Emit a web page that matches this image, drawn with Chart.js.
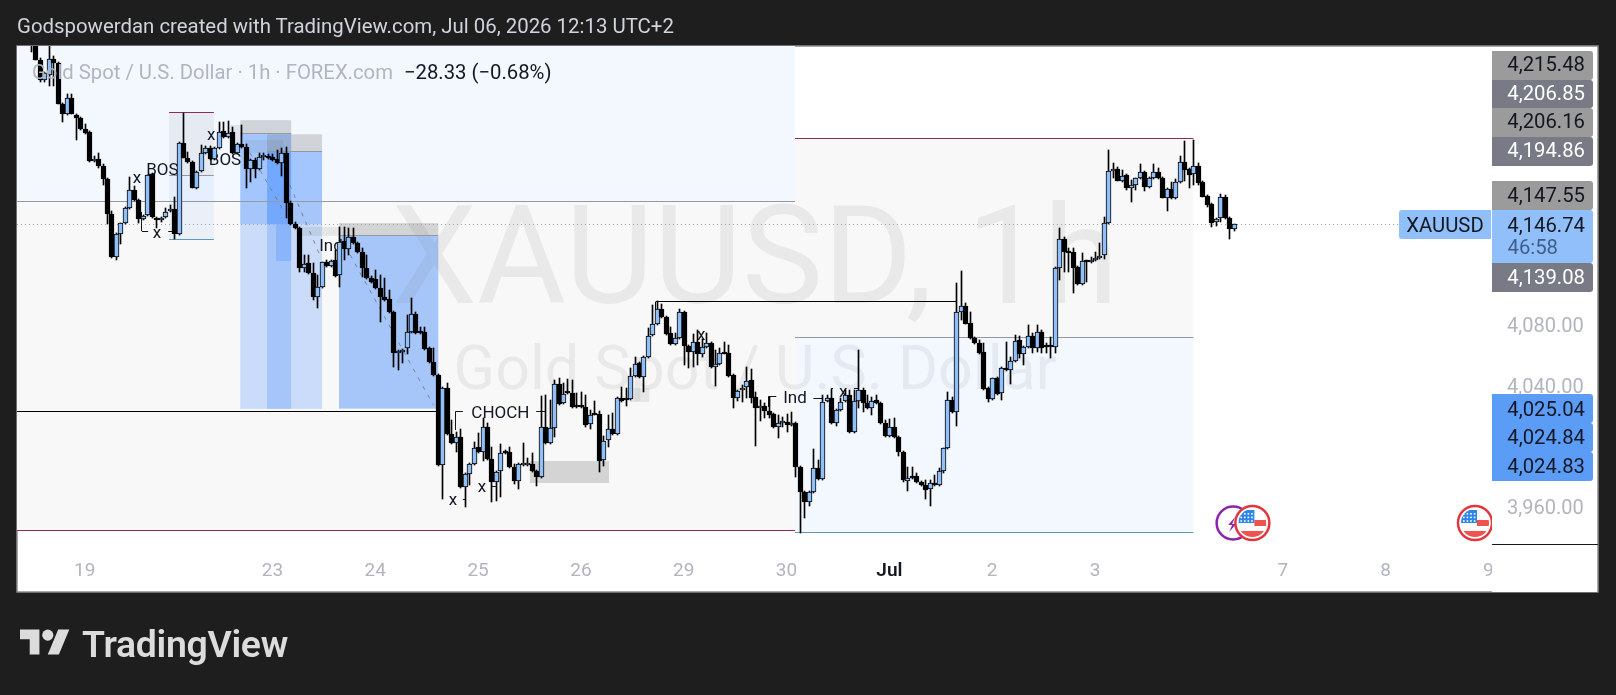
<!DOCTYPE html>
<html>
<head>
<meta charset="utf-8">
<title>XAUUSD, 1h</title>
<script src="https://cdn.jsdelivr.net/npm/chart.js@4/dist/chart.umd.min.js"></script>
<style>
    html, body { margin: 0; padding: 0; background: #1e1e1e; overflow: hidden; }
    body { width: 1616px; height: 695px; position: relative; font-family: Roboto, sans-serif; }
    canvas { position: absolute; left: 0; top: 0; }
    #titulo { position: absolute; left: 17px; top: 14px; color: #d1d4dc; font-size: 20.4px; line-height: 24px; white-space: nowrap; }
    #legenda { position: absolute; left: 32px; top: 60px; font-size: 20.3px; line-height: 24px; color: #b2b5be; white-space: nowrap; }
    #legenda b { font-weight: 400; color: #131722; margin-left: 11px; }
    #logo { position: absolute; left: 20px; top: 624px; }
    #marca { position: absolute; left: 82px; top: 622px; color: #dcdcdc; font-size: 37.4px; line-height: 44px; font-weight: 600; letter-spacing: -0.3px; white-space: nowrap; }
</style>
</head>
<body>
<canvas id="grafico" width="1616" height="695"></canvas>
<div id="titulo">Godspowerdan created with TradingView.com, Jul 06, 2026 12:13 UTC+2</div>
<div id="legenda">Gold Spot / U.S. Dollar · 1h · FOREX.com<b>−28.33 (−0.68%)</b></div>
<svg id="logo" width="50" height="39" viewBox="0 0 36 28"><path fill="#dcdcdc" d="M14 22H7V11H0V4h14v18zM28 22h-8l7.5-18h8L28 22z"/><circle fill="#dcdcdc" cx="20" cy="8" r="4"/></svg>
<div id="marca">TradingView</div>
<script>
// Candles 1h
const opens = [
    4268.5,4268.5,4255.3,4242.1,4245.4,4255.9,4253.3,4226.2,4219.6,4230.2,
    4218.9,4217.0,4209.7,4207.7,4188.6,4189.9,4185.2,4176.7,4153.5,4125.2,
    4140.4,4147.6,4157.5,4169.4,4162.8,4150.2,4152.9,4180.0,4150.9,4149.6,
    4151.6,4155.5,4156.9,4140.4,4200.4,4190.5,4187.9,4170.7,4181.9,4193.8,
    4197.1,4189.9,4197.1,4208.4,4204.4,4207.7,4193.8,4199.8,4197.8,4183.3,
    4189.2,4183.3,4190.9,4191.2,4191.2,4189.9,4187.2,4193.8,4160.8,4146.9,
    4144.3,4117.9,4121.2,4114.6,4098.7,4105.3,4121.9,4119.2,4123.2,4113.3,
    4135.7,4130.4,4138.4,4134.4,4128.5,4117.9,4111.3,4110.6,4104.7,4098.7,
    4097.4,4088.8,4061.7,4062.4,4065.0,4075.6,4087.5,4075.6,4075.6,4065.0,
    4055.8,4047.2,3987.8,4038.6,4008.2,4002.3,4006.3,3973.2,3981.8,3988.4,
    3999.7,3996.4,4012.9,3991.7,3976.5,3983.8,3996.4,3996.4,3986.5,3977.2,
    3988.1,3988.1,3988.4,3983.8,3979.8,4012.9,4002.3,4012.2,4041.2,4028.7,
    4035.3,4035.3,4026.7,4026.7,4026.1,4014.8,4021.5,4021.5,3991.1,4004.3,
    4011.5,4008.2,4032.0,4031.4,4031.4,4046.6,4055.1,4045.9,4059.1,4073.6,
    4080.9,4090.8,4085.5,4075.0,4067.7,4071.7,4088.8,4066.4,4062.4,4069.0,
    4061.1,4065.7,4068.3,4052.5,4054.5,4061.7,4061.7,4047.2,4032.0,4037.3,
    4039.3,4043.9,4032.7,4025.4,4026.7,4023.4,4021.5,4012.9,4015.8,4016.2,
    4014.2,4015.5,3986.5,3969.9,3963.3,3969.9,3985.8,3978.5,4030.0,4032.0,
    4015.5,4024.1,4030.0,4034.0,4009.6,4030.0,4037.3,4028.7,4025.4,4030.7,
    4028.7,4015.5,4006.9,4012.9,4006.3,3996.4,3977.2,3979.8,3980.5,3976.5,
    3974.6,3971.9,3975.9,3974.6,3983.8,3999.0,4030.7,4022.8,4088.8,4092.8,
    4081.5,4071.7,4068.3,4062.4,4038.6,4031.4,4045.2,4035.3,4051.8,4050.5,
    4056.5,4070.3,4061.1,4065.7,4073.0,4065.0,4075.6,4065.7,4065.7,4065.7,
    4117.9,4137.0,4128.5,4128.5,4118.6,4107.3,4122.5,4121.9,4123.2,4124.5,
    4126.5,4147.6,4181.9,4183.3,4175.3,4179.3,4170.7,4172.7,4177.3,4181.3,
    4171.4,4177.3,4181.3,4177.3,4164.1,4170.1,4164.1,4174.7,4187.9,4183.3,
    4180.0,4185.2,4174.7,4165.4,4160.2,4148.3,4150.9,4164.8,4150.9,4143.6
];
const highs = [
    4269.8,4269.8,4256.6,4247.3,4264.5,4257.9,4253.9,4226.9,4232.8,4232.8,
    4219.6,4217.6,4213.0,4208.4,4191.9,4193.8,4186.6,4177.3,4155.5,4141.0,
    4147.6,4158.2,4178.0,4172.0,4163.5,4152.9,4179.3,4180.6,4151.6,4151.6,
    4157.5,4159.5,4164.8,4201.1,4220.3,4194.5,4188.6,4181.9,4199.1,4198.5,
    4198.5,4197.8,4214.3,4214.3,4215.0,4211.0,4200.4,4212.3,4199.8,4189.9,
    4190.5,4193.8,4193.8,4193.2,4193.2,4195.8,4197.1,4197.8,4162.1,4148.3,
    4145.0,4126.5,4126.5,4121.2,4113.3,4121.9,4123.2,4123.2,4129.8,4145.0,
    4145.0,4144.3,4144.3,4135.1,4131.1,4126.5,4112.6,4116.6,4113.3,4111.3,
    4103.4,4089.5,4063.7,4064.4,4086.8,4098.1,4088.8,4078.9,4078.9,4065.7,
    4065.0,4047.9,4039.3,4041.9,4017.5,4009.6,4011.5,3982.5,3989.1,4003.0,
    4008.9,4018.8,4015.5,3999.7,3983.8,4001.6,3997.7,3999.7,3988.4,3989.1,
    4002.3,3992.4,3995.7,3984.5,4033.3,4034.0,4030.7,4043.9,4045.2,4041.9,
    4044.6,4043.9,4035.3,4036.0,4034.0,4024.1,4030.0,4023.4,4006.9,4020.8,
    4022.1,4032.7,4039.3,4038.6,4051.8,4059.1,4055.8,4059.8,4078.2,4093.4,
    4096.1,4094.1,4086.2,4078.9,4075.0,4090.8,4089.5,4067.0,4074.3,4076.9,
    4071.0,4075.0,4069.0,4063.7,4065.0,4069.0,4067.0,4047.9,4037.3,4040.6,
    4052.5,4051.2,4036.0,4030.7,4028.7,4032.7,4022.1,4020.8,4019.5,4021.5,
    4022.8,4016.2,3987.1,3970.6,3970.6,3998.3,3991.1,4034.0,4034.0,4038.0,
    4024.7,4032.0,4037.3,4037.3,4037.3,4063.7,4038.6,4034.0,4032.7,4034.0,
    4029.4,4017.5,4018.2,4018.8,4006.9,3997.0,3986.5,3986.5,3982.5,3977.2,
    3977.9,3977.9,3981.2,3985.8,3999.0,4036.0,4032.7,4108.0,4115.9,4094.8,
    4088.8,4072.3,4070.3,4068.3,4039.3,4045.2,4045.9,4052.5,4069.0,4059.1,
    4073.6,4073.0,4066.4,4080.2,4075.0,4080.2,4076.9,4068.3,4072.3,4118.6,
    4144.3,4138.4,4131.1,4131.1,4119.2,4127.8,4123.2,4125.2,4128.5,4134.4,
    4151.6,4195.8,4187.2,4184.6,4182.6,4180.0,4176.0,4177.3,4186.6,4181.9,
    4178.0,4186.6,4183.9,4178.0,4170.7,4174.7,4176.7,4191.9,4201.8,4183.9,
    4202.4,4187.2,4175.3,4166.1,4160.8,4150.9,4166.8,4166.1,4151.6,4146.9
];
const lows = [
    4260.6,4255.3,4240.7,4240.7,4238.1,4238.1,4226.2,4214.3,4218.9,4219.6,
    4202.4,4209.0,4206.4,4187.9,4187.9,4183.9,4172.7,4146.9,4124.5,4123.2,
    4133.7,4146.9,4156.9,4162.1,4147.6,4149.6,4152.2,4150.9,4144.3,4148.3,
    4150.9,4154.9,4137.0,4139.7,4190.5,4187.2,4170.7,4170.1,4181.3,4193.2,
    4189.2,4189.2,4196.5,4203.7,4203.7,4193.2,4193.2,4197.1,4170.7,4174.7,
    4177.3,4182.6,4189.2,4189.9,4188.6,4186.6,4178.6,4150.9,4146.3,4143.6,
    4115.3,4115.3,4113.9,4096.8,4091.5,4104.7,4118.6,4118.6,4111.9,4105.3,
    4123.2,4126.5,4133.7,4127.8,4111.9,4110.6,4108.0,4104.0,4082.2,4096.1,
    4088.2,4052.5,4050.5,4055.1,4061.1,4075.0,4074.3,4074.3,4063.7,4055.1,
    4046.6,3987.1,3965.3,4007.6,4001.6,3996.4,3972.6,3960.0,3974.6,3987.8,
    3995.7,3990.4,3991.1,3963.3,3964.0,3966.6,3995.0,3985.8,3975.2,3971.9,
    3987.1,3987.1,3983.2,3973.9,3979.2,4001.6,4001.6,4006.3,4027.4,4028.1,
    4034.7,4025.4,4025.4,4025.4,4012.9,4011.5,4020.8,3983.2,3987.1,3999.7,
    4007.6,4007.6,4029.4,4026.7,4030.7,4045.9,4045.2,4036.0,4058.4,4073.0,
    4080.2,4084.9,4073.6,4067.0,4067.0,4071.0,4053.8,4051.8,4052.5,4053.8,
    4059.1,4065.0,4051.8,4040.0,4053.8,4061.1,4045.9,4025.4,4030.0,4029.4,
    4032.0,4028.7,4000.3,4016.8,4018.8,4018.8,4012.2,4005.6,4012.9,4009.6,
    4013.5,3979.8,3942.9,3952.8,3960.7,3969.3,3977.9,3977.9,4029.4,4014.8,
    4013.5,4023.4,4029.4,4008.9,4008.9,4025.4,4022.8,4024.8,4020.8,4028.1,
    4014.8,4006.3,4006.3,4005.6,3993.7,3976.5,3970.6,3978.5,3975.9,3973.9,
    3965.3,3960.7,3973.9,3973.9,3982.5,3998.3,4022.1,4013.5,4083.5,4080.9,
    4071.0,4067.7,4061.1,4037.3,4029.4,4030.7,4034.0,4030.7,4049.8,4041.2,
    4055.8,4058.4,4053.8,4065.0,4061.7,4062.4,4061.7,4061.7,4058.4,4061.7,
    4110.0,4115.3,4115.3,4101.4,4106.7,4106.7,4108.6,4121.2,4122.5,4123.8,
    4123.8,4146.9,4177.3,4175.3,4174.7,4169.4,4161.5,4169.4,4176.7,4168.7,
    4170.7,4176.7,4176.7,4164.1,4155.5,4163.5,4163.5,4174.0,4175.3,4170.7,
    4172.7,4172.7,4164.8,4158.2,4145.0,4145.6,4148.3,4150.2,4137.0,4142.3
];
const closes = [
    4265.8,4255.3,4242.1,4246.7,4255.9,4253.3,4226.2,4219.6,4230.2,4219.6,
    4217.0,4209.7,4207.1,4188.6,4189.9,4185.2,4176.7,4153.5,4125.2,4140.4,
    4147.6,4157.5,4169.4,4162.8,4150.2,4152.2,4179.3,4151.6,4149.6,4150.9,
    4154.9,4156.9,4140.4,4200.4,4190.5,4187.9,4170.7,4181.3,4193.8,4197.1,
    4189.9,4197.1,4207.7,4204.4,4207.1,4193.8,4199.8,4197.8,4183.3,4189.2,
    4183.3,4191.2,4191.2,4190.5,4189.2,4187.2,4193.8,4160.8,4146.9,4144.3,
    4117.9,4120.5,4114.6,4098.7,4105.3,4121.9,4119.2,4122.5,4112.6,4135.1,
    4130.4,4138.4,4134.4,4128.5,4117.9,4111.3,4108.6,4104.7,4098.7,4096.8,
    4088.8,4061.7,4063.1,4063.7,4075.6,4087.5,4075.0,4075.0,4064.4,4055.8,
    4047.2,3987.8,4038.6,4008.2,4002.3,4006.3,3973.2,3981.8,3988.4,3999.0,
    3996.4,4012.9,3991.7,3976.5,3983.2,3995.7,3995.7,3986.5,3977.2,3988.4,
    3988.4,3988.4,3983.8,3979.8,4012.9,4002.3,4012.2,4041.2,4028.1,4034.7,
    4035.0,4026.1,4026.1,4026.1,4014.2,4020.8,4021.1,3990.4,4003.6,4011.5,
    4008.2,4032.0,4030.0,4031.0,4046.6,4054.5,4045.9,4059.1,4073.0,4080.9,
    4090.8,4085.5,4074.3,4067.7,4071.7,4088.8,4066.4,4062.4,4069.0,4061.1,
    4065.7,4068.3,4052.5,4054.5,4061.7,4061.4,4046.6,4032.0,4036.6,4038.6,
    4043.2,4032.0,4025.4,4026.7,4023.4,4020.8,4012.9,4015.5,4016.2,4014.2,
    4015.5,3986.5,3969.9,3963.3,3969.9,3985.8,3978.5,4029.4,4032.0,4015.5,
    4024.1,4029.4,4034.0,4009.6,4030.0,4037.3,4028.7,4025.4,4030.0,4028.7,
    4015.5,4006.9,4012.9,4006.3,3996.4,3977.9,3979.2,3979.5,3976.5,3974.6,
    3971.3,3975.9,3974.6,3983.8,3999.0,4030.7,4022.8,4088.8,4092.8,4080.9,
    4071.7,4068.3,4061.7,4038.0,4031.4,4045.2,4034.7,4051.8,4050.5,4056.5,
    4069.7,4061.1,4065.7,4073.0,4065.0,4075.6,4065.0,4065.4,4065.4,4117.9,
    4137.0,4128.5,4128.1,4117.9,4107.3,4122.5,4121.9,4123.2,4124.5,4125.8,
    4147.6,4181.9,4183.3,4175.3,4178.6,4170.7,4172.7,4177.3,4181.3,4171.4,
    4177.3,4181.3,4177.3,4164.1,4170.1,4164.1,4174.7,4187.9,4182.6,4179.3,
    4185.2,4174.0,4164.8,4159.5,4147.6,4150.2,4164.8,4150.9,4143.6,4146.74
];

// Eixos
const diasIndice = [12, 54, 77, 100, 123, 146, 169, 192, 215, 238, 280, 303, 326];
const diasTexto = ['19', '23', '24', '25', '26', '29', '30', 'Jul', '2', '3', '7', '8', '9'];
const precosEixo = [4080, 4040, 3960];

// Niveis de preco que aparecem na escala
const precoAtual = 4146.74;
const etiquetasCinza = ['4,215.48', '4,206.16', '4,147.55'];
const etiquetasEscuras = ['4,206.85', '4,194.86', '4,139.08'];
const etiquetasAzuis = ['4,025.04', '4,024.84', '4,024.83'];

// Zonas [indice1, indice2, preco1, preco2]
const zonasClaras = [[-3.13, 170.9, 4264.5, 4162.1], [170.9, 260, 4072.3, 3942.9]];
const zonasCinza = [[-3.13, 170.9, 4162.1, 3944.2], [170.9, 260, 4203.1, 4072.3]];
const zonasAzuis = [
    [46.8, 58.2, 4206.85, 4024.83], [52.8, 65.1, 4194.86, 4024.84], [68.9, 91.1, 4139.08, 4025.04],
    [68.9, 91.1, 4139.08, 4025.04], [46.8, 58.2, 4206.85, 4146.9], [58.2, 65.1, 4194.86, 4146.9],
    [52.8, 58.2, 4194.86, 4146.9], [54.8, 58.2, 4146.9, 4122.5]
];
const zonasOferta = [
    [46.8, 58.2, 4215.48, 4206.85], [52.8, 65.1, 4206.16, 4194.86], [68.9, 91.1, 4147.55, 4139.08],
    [111.6, 129.3, 3990.4, 3975.9]
];
const zonasFracas = [
    [47.9, 56.4, 4202.4, 4193.9], [44.5, 47.0, 4212.3, 4199.1], [60.6, 69.1, 4145.0, 4139.08],
    [134.0, 138.3, 4038.6, 4029.4]
];
const caixaTopo = [30.9, 40.9, 4220.3, 4179.3];
const caixaBase = [30.9, 40.9, 4179.3, 4137.0];

// Linhas [indice1, preco1, indice2, preco2]
const linhasPretas = [
    [-3.13, 4023.4, 90.6, 4023.4], [139.8, 4095.7, 206.9, 4095.7], [139.8, 4095.7, 139.8, 4090.5]
];
const linhasVinho = [[-3.13, 3944.2, 170.9, 3944.2], [170.9, 4203.1, 260, 4203.1], [30.9, 4220.3, 40.9, 4220.3]];
const linhasAzuis = [[170.9, 3942.9, 260, 3942.9], [30.9, 4137.0, 40.9, 4137.0]];
const linhasCinza = [
    [-3.13, 4162.1, 170.9, 4162.1], [170.9, 4072.3, 260, 4072.3], [30.9, 4179.3, 40.9, 4179.3],
    [46.8, 4206.85, 58.2, 4206.85], [52.8, 4194.86, 65.1, 4194.86], [68.9, 4139.08, 91.1, 4139.08]
];
const linhasTracejadas = [
    [49.0, 4193.8, 56.8, 4154.2], [57.9, 4172.7, 64.6, 4126.5], [71.4, 4126.5, 90.0, 4027.4]
];
const conectores = [
    [24.8, 4154.9, 24.8, 4142.3], [24.8, 4142.3, 26.2, 4142.3], [30.7, 4142.3, 31.8, 4142.3],
    [94.9, 4022.8, 94.9, 4010.9], [94.9, 4022.8, 96.6, 4022.8], [113.0, 4022.8, 115.0, 4022.8],
    [96.6, 3965.3, 97.1, 3965.3], [103.1, 3975.9, 103.1, 3973.9], [103.1, 3973.9, 104.0, 3973.9],
    [164.9, 4032.7, 166.7, 4032.7], [164.9, 4032.7, 164.9, 4026.1], [175.0, 4032.0, 177.2, 4032.0],
    [179.0, 4038.0, 179.4, 4038.0], [179.0, 4038.0, 179.0, 4032.7], [184.1, 4038.0, 185.0, 4038.0]
];

// Rotulos de estrutura [texto, indice, preco]
const rotulos = [
    ['BOS', 29.4, 4183.3], ['BOS', 43.4, 4189.9], ['Ind', 67.1, 4133.1], ['CHOCH', 105.0, 4022.8], ['Ind', 170.9, 4032.7],
    ['x', 23.7, 4178.0], ['x', 28.2, 4141.7], ['x', 40.3, 4206.4], ['x', 94.4, 3965.3], ['x', 100.9, 3973.9],
    ['x', 149.9, 4074.3], ['x', 181.7, 4036.6]
];

// Eventos no rodape do grafico, por indice de barra
const eventosEUA = [273.2, 323];
const eventosRaio = [268.9];

const indices = opens.map((_, i) => i);
const corpoCor = opens.map((o, i) => closes[i] >= o ? '#90bff9' : '#000000');

function px(chart, indice) { return chart.scales.x.getPixelForValue(indice); }
function py(chart, preco) { return chart.scales.y.getPixelForValue(preco); }

function pintarZonas(chart, lista, cor) {
    const ctx = chart.ctx;
    ctx.fillStyle = cor;
    lista.forEach(z => {
        const x1 = px(chart, z[0]), x2 = px(chart, z[1]), y1 = py(chart, z[2]), y2 = py(chart, z[3]);
        ctx.fillRect(x1, y1, x2 - x1, y2 - y1);
    });
}

function pintarLinhas(chart, lista, cor, tracejado = []) {
    const ctx = chart.ctx;
    ctx.strokeStyle = cor;
    ctx.lineWidth = 1;
    ctx.setLineDash(tracejado);
    lista.forEach(l => {
        let x1 = px(chart, l[0]), y1 = py(chart, l[1]), x2 = px(chart, l[2]), y2 = py(chart, l[3]);
        // Linhas retas ficam no centro do pixel para nao borrar
        if (l[1] === l[3]) y1 = y2 = Math.floor(y1) + 0.5;
        if (l[0] === l[2]) x1 = x2 = Math.floor(x1) + 0.5;
        ctx.beginPath();
        ctx.moveTo(x1, y1);
        ctx.lineTo(x2, y2);
        ctx.stroke();
    });
    ctx.setLineDash([]);
}

function desenharBandeira(ctx, cx, cy) {
    ctx.save();
    ctx.beginPath();
    ctx.arc(cx, cy, 17, 0, Math.PI * 2);
    ctx.fillStyle = '#ffffff';
    ctx.fill();
    ctx.strokeStyle = '#e0383e';
    ctx.lineWidth = 2.5;
    ctx.stroke();
    ctx.beginPath();
    ctx.arc(cx, cy, 14, 0, Math.PI * 2);
    ctx.clip();
    ctx.fillStyle = '#ef5350';
    ctx.fillRect(cx + 2, cy - 3, 12, 6);
    ctx.fillRect(cx - 14, cy + 8, 28, 6);
    ctx.fillStyle = '#2f86e6';
    ctx.fillRect(cx - 14, cy - 13, 16, 13);
    ctx.fillStyle = '#ffffff';
    for (let l = 0; l < 3; l++) {
        for (let c = 0; c < 4; c++) ctx.fillRect(cx - 12 + c * 3.6, cy - 10 + l * 3.6, 1.6, 1.6);
    }
    ctx.restore();
}

function desenharRaio(ctx, cx, cy) {
    ctx.beginPath();
    ctx.arc(cx, cy, 16.5, 0, Math.PI * 2);
    ctx.fillStyle = '#ffffff';
    ctx.fill();
    ctx.strokeStyle = '#8e24aa';
    ctx.lineWidth = 2.5;
    ctx.stroke();
    ctx.beginPath();
    ctx.moveTo(cx + 2, cy - 6);
    ctx.lineTo(cx - 1, cy + 1);
    ctx.lineTo(cx + 3, cy + 1);
    ctx.lineTo(cx - 4, cy + 9);
    ctx.lineTo(cx - 1, cy + 2);
    ctx.lineTo(cx - 5, cy + 2);
    ctx.closePath();
    ctx.fillStyle = '#8e24aa';
    ctx.fill();
}

function etiquetaPreco(ctx, topo, altura, cor, texto, corTexto, yTexto) {
    ctx.fillStyle = cor;
    ctx.beginPath();
    ctx.roundRect(1492, topo, 101, altura, [0, 3, 3, 0]);
    ctx.fill();
    ctx.fillStyle = corTexto;
    ctx.fillText(texto, 1585, yTexto);
}

const planoDeFundo = {
    id: 'planoDeFundo',
    // Encosta corpos e pavios na grade de pixels, como o grafico original
    afterDatasetsUpdate(chart) {
        [0, 1].forEach(k => {
            chart.getDatasetMeta(k).data.forEach(el => {
                el.x = Math.round(el.x) + 0.5;
                el.y = Math.round(el.y);
                el.base = Math.round(el.base);
                if (k === 1 && Math.abs(el.base - el.y) < 2) el.base = el.y + 2;
            });
        });
    },
    beforeDraw(chart) {
        const ctx = chart.ctx;
        ctx.save();
        ctx.fillStyle = '#1e1e1e';
        ctx.fillRect(0, 0, 1616, 695);
        ctx.fillStyle = '#ffffff';
        ctx.fillRect(17, 46, 1581, 546);
        ctx.strokeStyle = '#8c8c8c';
        ctx.lineWidth = 1.5;
        ctx.strokeRect(17, 46, 1581, 546);
        ctx.restore();
    },
    beforeDatasetsDraw(chart) {
        const ctx = chart.ctx, area = chart.chartArea;
        ctx.save();
        ctx.beginPath();
        ctx.rect(area.left, area.top, area.right - area.left, area.bottom - area.top);
        ctx.clip();

        pintarZonas(chart, zonasClaras, '#f3f8ff');
        pintarZonas(chart, zonasCinza, '#f8f8f8');
        pintarZonas(chart, [caixaTopo], 'rgba(120,123,134,0.1)');
        pintarZonas(chart, [caixaBase], 'rgba(41,98,255,0.06)');
        pintarZonas(chart, zonasAzuis, 'rgba(41,121,255,0.22)');
        pintarZonas(chart, zonasOferta, 'rgba(120,120,120,0.28)');
        pintarZonas(chart, zonasFracas, 'rgba(120,120,120,0.14)');

        // Marca d'agua
        ctx.fillStyle = 'rgba(120,120,125,0.11)';
        ctx.textAlign = 'center';
        ctx.textBaseline = 'alphabetic';
        ctx.font = '136.5px Roboto';
        ctx.fillText('XAUUSD, 1h', 755, 303);
        ctx.font = '61px Roboto';
        ctx.fillText('Gold Spot / U.S. Dollar', 755, 389);

        // Linha do preco atual
        pintarLinhas(chart, [[-3.13, precoAtual, 326.8, precoAtual]], '#8fa6c4', [1, 3]);
        pintarLinhas(chart, linhasCinza, '#9598a1');
        pintarLinhas(chart, linhasVinho, '#8f2b5c');
        pintarLinhas(chart, linhasAzuis, '#5b9ab8');
        pintarLinhas(chart, linhasPretas, '#000000');
        pintarLinhas(chart, linhasTracejadas, 'rgba(110,115,125,0.8)', [4, 6]);
        pintarLinhas(chart, conectores, '#131722');

        ctx.fillStyle = '#131722';
        ctx.font = '17px Roboto';
        ctx.textBaseline = 'middle';
        rotulos.forEach(r => ctx.fillText(r[0], px(chart, r[1]), py(chart, r[2]) + 2));
        ctx.restore();
    },
    afterDatasetsDraw(chart) {
        const ctx = chart.ctx, area = chart.chartArea;
        ctx.save();
        ctx.beginPath();
        ctx.rect(area.left, area.top, area.right - area.left, area.bottom - area.top);
        ctx.clip();
        const yEvento = 523;
        eventosRaio.forEach(i => desenharRaio(ctx, px(chart, i), yEvento));
        eventosEUA.forEach(i => desenharBandeira(ctx, px(chart, i), yEvento));
        ctx.restore();

        ctx.save();
        // Cobre o que passa do eixo de tempo para o painel de precos
        ctx.fillStyle = '#ffffff';
        ctx.fillRect(area.right, area.bottom + 1, 105, 47);
        ctx.fillStyle = '#131722';
        ctx.fillRect(area.right, area.bottom, 106, 1);

        ctx.font = '20.3px Roboto';
        ctx.textAlign = 'right';
        ctx.textBaseline = 'middle';
        const cinza = '#9b9b9b', escuro = '#787b86', azulForte = '#5b9cf6', azulClaro = '#90bff9';
        etiquetaPreco(ctx, 51, 29, cinza, etiquetasCinza[0], '#131722', 65.5);
        etiquetaPreco(ctx, 80, 28, escuro, etiquetasEscuras[0], '#ffffff', 94.5);
        etiquetaPreco(ctx, 108, 29, cinza, etiquetasCinza[1], '#131722', 122.5);
        etiquetaPreco(ctx, 137, 29, escuro, etiquetasEscuras[1], '#ffffff', 151.5);
        etiquetaPreco(ctx, 181, 29, cinza, etiquetasCinza[2], '#131722', 196.5);
        etiquetaPreco(ctx, 263, 29, escuro, etiquetasEscuras[2], '#ffffff', 278.5);
        etiquetaPreco(ctx, 210, 53, azulClaro, precoAtual.toLocaleString('en-US', { minimumFractionDigits: 2 }), '#131722', 226.5);
        ctx.fillStyle = '#3f5f8a';
        ctx.fillText('46:58', 1558, 249);
        etiquetaPreco(ctx, 394, 29, azulForte, etiquetasAzuis[0], '#131722', 410.5);
        etiquetaPreco(ctx, 423, 29, azulForte, etiquetasAzuis[1], '#131722', 438.5);
        etiquetaPreco(ctx, 452, 29, azulForte, etiquetasAzuis[2], '#131722', 467.5);

        ctx.fillStyle = azulClaro;
        ctx.beginPath();
        ctx.roundRect(1399, 210, 92, 29, [3, 0, 0, 3]);
        ctx.fill();
        ctx.fillStyle = '#131722';
        ctx.textAlign = 'center';
        ctx.fillText('XAUUSD', 1445, 226.5);
        ctx.restore();
    }
};

function criarGrafico() {
    const ctx = document.getElementById('grafico').getContext('2d');
    return new Chart(ctx, {
        type: 'bar',
        data: {
            datasets: [
                {
                    // Pavios
                    data: indices.map(i => ({ x: i, y: [lows[i], highs[i]] })),
                    backgroundColor: '#000000',
                    barThickness: 1,
                    grouped: false,
                    order: 2
                },
                {
                    // Corpos
                    data: indices.map(i => ({ x: i, y: [opens[i], closes[i]] })),
                    backgroundColor: corpoCor,
                    borderColor: '#000000',
                    borderWidth: 1,
                    borderSkipped: false,
                    barThickness: 5,
                    minBarLength: 2,
                    grouped: false,
                    order: 1
                }
            ]
        },
        options: {
            responsive: false,
            animation: false,
            devicePixelRatio: 1,
            layout: { padding: { left: 17, top: 46, right: 18, bottom: 103 } },
            plugins: { legend: { display: false }, tooltip: { enabled: false } },
            scales: {
                x: {
                    type: 'linear',
                    offset: false,
                    min: -3.13,
                    max: 326.8,
                    grid: { display: false, offset: false },
                    border: { display: false },
                    afterFit: s => { s.height = 48; s.paddingLeft = 0; s.paddingRight = 0; },
                    afterBuildTicks: s => { s.ticks = diasIndice.map(v => ({ value: v })); },
                    ticks: {
                        autoSkip: false,
                        maxRotation: 0,
                        padding: 8,
                        callback: v => diasTexto[diasIndice.indexOf(v)],
                        color: c => (c.tick && c.tick.value === 192 ? '#131722' : '#b2b5be'),
                        font: c => (c.tick && c.tick.value === 192
                            ? { family: 'Roboto', size: 19, weight: '600' }
                            : { family: 'Roboto', size: 19 })
                    }
                },
                y: {
                    position: 'right',
                    min: 3935.6,
                    max: 4264.5,
                    grid: { display: false, drawTicks: false },
                    border: { display: false },
                    afterFit: s => { s.width = 106; },
                    // Rotulos 2px abaixo da posicao exata, como no original
                    afterBuildTicks: s => { s.ticks = precosEixo.map(v => ({ value: v - 1.3 })); },
                    ticks: {
                        padding: 15,
                        color: '#b2b5be',
                        font: { family: 'Roboto', size: 20 },
                        callback: (v, i) => precosEixo[i].toLocaleString('en-US', { minimumFractionDigits: 2 })
                    }
                }
            }
        },
        plugins: [planoDeFundo]
    });
}

document.fonts.load('20px Roboto').finally(criarGrafico);
</script>
</body>
</html>
